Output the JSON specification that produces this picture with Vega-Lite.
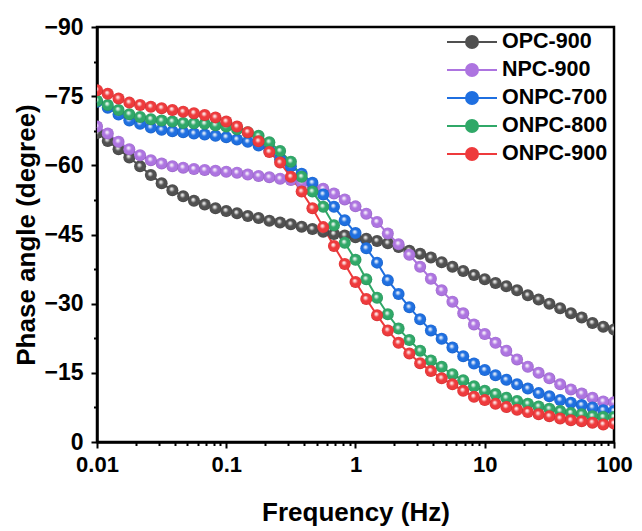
{
  "$schema": "https://vega.github.io/schema/vega-lite/v6.json",
  "autosize": {"type": "none"},
  "padding": {"left": 97, "top": 27, "right": 28, "bottom": 89},
  "width": 517,
  "height": 415,
  "background": "white",
  "config": {
    "view": {"stroke": "black", "strokeWidth": 2.5},
    "font": "Liberation Sans",
    "axis": {"domainColor": "black", "domainWidth": 2.5, "tickColor": "black", "tickWidth": 2, "grid": false,
      "labelFont": "Liberation Sans", "labelFontSize": 22, "labelFontWeight": "bold", "labelColor": "black",
      "titleFont": "Liberation Sans", "titleFontSize": 26, "titleFontWeight": "bold", "titleColor": "black"}
  },
  "data": {"values": [
    {"f":0.01,"OPC_900":-67.0,"NPC_900":-68.4,"ONPC_700":-73.8,"ONPC_800":-74.0,"ONPC_900":-76.3},
    {"f":0.012115,"OPC_900":-65.3,"NPC_900":-66.9,"ONPC_700":-72.5,"ONPC_800":-73.1,"ONPC_900":-75.5},
    {"f":0.014678,"OPC_900":-63.5,"NPC_900":-65.1,"ONPC_700":-71.0,"ONPC_800":-72.0,"ONPC_900":-74.5},
    {"f":0.017783,"OPC_900":-61.7,"NPC_900":-63.5,"ONPC_700":-69.7,"ONPC_800":-71.1,"ONPC_900":-73.6},
    {"f":0.021544,"OPC_900":-59.8,"NPC_900":-62.2,"ONPC_700":-69.0,"ONPC_800":-70.5,"ONPC_900":-73.1},
    {"f":0.026102,"OPC_900":-57.9,"NPC_900":-61.1,"ONPC_700":-68.2,"ONPC_800":-70.0,"ONPC_900":-72.7},
    {"f":0.031623,"OPC_900":-56.1,"NPC_900":-60.4,"ONPC_700":-67.7,"ONPC_800":-69.7,"ONPC_900":-72.4},
    {"f":0.038312,"OPC_900":-54.6,"NPC_900":-59.8,"ONPC_700":-67.4,"ONPC_800":-69.5,"ONPC_900":-72.0},
    {"f":0.046416,"OPC_900":-53.3,"NPC_900":-59.5,"ONPC_700":-67.2,"ONPC_800":-69.2,"ONPC_900":-71.6},
    {"f":0.056234,"OPC_900":-52.3,"NPC_900":-59.2,"ONPC_700":-66.9,"ONPC_800":-69.1,"ONPC_900":-71.3},
    {"f":0.068129,"OPC_900":-51.5,"NPC_900":-59.0,"ONPC_700":-66.7,"ONPC_800":-69.0,"ONPC_900":-70.9},
    {"f":0.08254,"OPC_900":-50.7,"NPC_900":-58.8,"ONPC_700":-66.4,"ONPC_800":-68.7,"ONPC_900":-70.4},
    {"f":0.1,"OPC_900":-50.1,"NPC_900":-58.6,"ONPC_700":-66.1,"ONPC_800":-68.4,"ONPC_900":-69.5},
    {"f":0.12115,"OPC_900":-49.6,"NPC_900":-58.4,"ONPC_700":-65.6,"ONPC_800":-67.8,"ONPC_900":-68.4},
    {"f":0.14678,"OPC_900":-49.0,"NPC_900":-58.0,"ONPC_700":-65.1,"ONPC_800":-67.2,"ONPC_900":-67.2},
    {"f":0.17783,"OPC_900":-48.6,"NPC_900":-57.7,"ONPC_700":-64.3,"ONPC_800":-66.4,"ONPC_900":-65.2},
    {"f":0.21544,"OPC_900":-48.0,"NPC_900":-57.4,"ONPC_700":-63.2,"ONPC_800":-65.0,"ONPC_900":-62.9},
    {"f":0.26102,"OPC_900":-47.6,"NPC_900":-57.1,"ONPC_700":-61.3,"ONPC_800":-63.1,"ONPC_900":-60.6},
    {"f":0.31623,"OPC_900":-47.2,"NPC_900":-56.8,"ONPC_700":-59.8,"ONPC_800":-60.8,"ONPC_900":-57.5},
    {"f":0.38312,"OPC_900":-46.7,"NPC_900":-56.3,"ONPC_700":-58.2,"ONPC_800":-57.5,"ONPC_900":-54.3},
    {"f":0.46416,"OPC_900":-46.2,"NPC_900":-55.7,"ONPC_700":-56.2,"ONPC_800":-54.3,"ONPC_900":-50.7},
    {"f":0.56234,"OPC_900":-45.6,"NPC_900":-54.9,"ONPC_700":-53.7,"ONPC_800":-51.0,"ONPC_900":-46.6},
    {"f":0.68129,"OPC_900":-45.1,"NPC_900":-53.9,"ONPC_700":-51.0,"ONPC_800":-47.0,"ONPC_900":-42.5},
    {"f":0.8254,"OPC_900":-44.8,"NPC_900":-52.6,"ONPC_700":-48.1,"ONPC_800":-43.2,"ONPC_900":-38.6},
    {"f":1,"OPC_900":-44.4,"NPC_900":-51.1,"ONPC_700":-45.3,"ONPC_800":-39.5,"ONPC_900":-34.7},
    {"f":1.2115,"OPC_900":-44.1,"NPC_900":-49.5,"ONPC_700":-42.0,"ONPC_800":-35.3,"ONPC_900":-31.0},
    {"f":1.4678,"OPC_900":-43.6,"NPC_900":-47.7,"ONPC_700":-38.9,"ONPC_800":-31.3,"ONPC_900":-27.5},
    {"f":1.7783,"OPC_900":-43.1,"NPC_900":-45.2,"ONPC_700":-35.1,"ONPC_800":-27.7,"ONPC_900":-24.2},
    {"f":2.1544,"OPC_900":-42.3,"NPC_900":-42.9,"ONPC_700":-32.1,"ONPC_800":-24.6,"ONPC_900":-21.5},
    {"f":2.6102,"OPC_900":-41.5,"NPC_900":-40.6,"ONPC_700":-29.2,"ONPC_800":-22.1,"ONPC_900":-19.2},
    {"f":3.1623,"OPC_900":-40.8,"NPC_900":-38.0,"ONPC_700":-26.6,"ONPC_800":-19.8,"ONPC_900":-17.1},
    {"f":3.8312,"OPC_900":-40.0,"NPC_900":-35.4,"ONPC_700":-24.2,"ONPC_800":-17.7,"ONPC_900":-15.4},
    {"f":4.6416,"OPC_900":-39.0,"NPC_900":-32.9,"ONPC_700":-22.4,"ONPC_800":-16.3,"ONPC_900":-13.8},
    {"f":5.6234,"OPC_900":-38.0,"NPC_900":-30.4,"ONPC_700":-20.5,"ONPC_800":-14.7,"ONPC_900":-12.5},
    {"f":6.8129,"OPC_900":-37.1,"NPC_900":-27.9,"ONPC_700":-18.6,"ONPC_800":-13.4,"ONPC_900":-11.1},
    {"f":8.254,"OPC_900":-36.2,"NPC_900":-25.5,"ONPC_700":-17.0,"ONPC_800":-12.1,"ONPC_900":-9.8},
    {"f":10,"OPC_900":-35.3,"NPC_900":-23.4,"ONPC_700":-15.6,"ONPC_800":-11.1,"ONPC_900":-9.1},
    {"f":12.115,"OPC_900":-34.5,"NPC_900":-21.5,"ONPC_700":-14.5,"ONPC_800":-10.4,"ONPC_900":-8.3},
    {"f":14.678,"OPC_900":-33.8,"NPC_900":-19.8,"ONPC_700":-13.5,"ONPC_800":-9.6,"ONPC_900":-7.6},
    {"f":17.783,"OPC_900":-32.9,"NPC_900":-17.9,"ONPC_700":-12.5,"ONPC_800":-8.9,"ONPC_900":-7.0},
    {"f":21.544,"OPC_900":-31.8,"NPC_900":-16.3,"ONPC_700":-11.6,"ONPC_800":-8.3,"ONPC_900":-6.5},
    {"f":26.102,"OPC_900":-30.9,"NPC_900":-15.0,"ONPC_700":-10.6,"ONPC_800":-7.7,"ONPC_900":-6.0},
    {"f":31.623,"OPC_900":-30.0,"NPC_900":-13.8,"ONPC_700":-9.9,"ONPC_800":-7.2,"ONPC_900":-5.6},
    {"f":38.312,"OPC_900":-29.0,"NPC_900":-12.5,"ONPC_700":-9.1,"ONPC_800":-6.7,"ONPC_900":-5.1},
    {"f":46.416,"OPC_900":-27.9,"NPC_900":-11.4,"ONPC_700":-8.5,"ONPC_800":-6.3,"ONPC_900":-4.7},
    {"f":56.234,"OPC_900":-27.0,"NPC_900":-10.5,"ONPC_700":-8.0,"ONPC_800":-6.0,"ONPC_900":-4.5},
    {"f":68.129,"OPC_900":-25.8,"NPC_900":-9.6,"ONPC_700":-7.5,"ONPC_800":-5.6,"ONPC_900":-4.2},
    {"f":82.54,"OPC_900":-25.0,"NPC_900":-8.8,"ONPC_700":-6.9,"ONPC_800":-5.4,"ONPC_900":-3.8},
    {"f":100,"OPC_900":-24.4,"NPC_900":-8.6,"ONPC_700":-6.7,"ONPC_800":-5.4,"ONPC_900":-4.0}
  ]},
  "transform": [{"fold": ["OPC_900", "NPC_900", "ONPC_700", "ONPC_800", "ONPC_900"], "as": ["s", "p"]}],
  "encoding": {
    "x": {"field": "f", "type": "quantitative",
      "scale": {"type": "log", "domain": [0.01, 100], "nice": false},
      "axis": {"title": "Frequency (Hz)", "titlePadding": 24,
        "values": [0.01,0.02,0.03,0.04,0.05,0.06,0.07,0.08,0.09,0.1,0.2,0.3,0.4,0.5,0.6,0.7,0.8,0.9,1,2,3,4,5,6,7,8,9,10,20,30,40,50,60,70,80,90,100],
        "labelExpr": "indexof([0.01,0.1,1,10,100], datum.value) >= 0 ? format(datum.value, '~g') : ''",
        "tickSize": {"condition": {"test": "indexof([0.01,0.1,1,10,100], datum.value) >= 0", "value": 6}, "value": 3.5},
        "labelFlush": false, "labelOverlap": false, "labelBound": false, "labelPadding": 6}},
    "y": {"field": "p", "type": "quantitative",
      "scale": {"domain": [-90, 0], "reverse": true, "nice": false, "zero": false},
      "axis": {"title": "Phase angle (degree)", "titlePadding": 4,
        "values": [-90,-82.5,-75,-67.5,-60,-52.5,-45,-37.5,-30,-22.5,-15,-7.5,0],
        "labelExpr": "datum.value % 15 === 0 ? format(datum.value, 'd') : ''",
        "labelFontSize": 23,
        "tickSize": {"condition": {"test": "datum.value % 15 === 0", "value": 6}, "value": 3.5},
        "labelFlush": false, "labelOverlap": false, "labelBound": false, "labelPadding": 8}}
  },
  "layer": [
    {"mark": {"type": "line", "strokeWidth": 2},
     "encoding": {"color": {"field": "s", "type": "nominal",
        "scale": {"domain": ["OPC_900","NPC_900","ONPC_700","ONPC_800","ONPC_900"], "range": ["#505050","#ad74e0","#1f6fe0","#30a868","#ee3a3c"]},
        "legend": {"orient": "none", "legendX": 364, "legendY": 4, "title": null, "padding": 0,
          "labelExpr": "replace(datum.label, '_', '-')",
          "symbolType": "M-2.5,0H2.5M0.6,0A0.6,0.6,0,1,1,-0.6,0A0.6,0.6,0,1,1,0.6,0Z",
          "symbolSize": 400, "symbolStrokeWidth": 2,
          "labelFont": "Liberation Sans", "labelFontSize": 21.5, "labelFontWeight": "bold", "labelColor": "black",
          "labelOffset": 19, "rowPadding": 6,
          "encode": {"symbols": {"update": {"fill": {"scale": "color", "field": "value"}, "stroke": {"scale": "color", "field": "value"}, "opacity": {"value": 1}}}}}}}},
    {"transform": [{"filter": "datum.s === 'OPC_900'"}], "layer": [
      {"mark": {"type": "point", "filled": true, "size": 144, "opacity": 1, "clip": true},
       "encoding": {"color": {"field": "s", "type": "nominal", "legend": null,
          "scale": {"domain": ["OPC_900","NPC_900","ONPC_700","ONPC_800","ONPC_900"], "range": ["#505050","#ad74e0","#1f6fe0","#30a868","#ee3a3c"]}}}},
      {"mark": {"type": "point", "filled": true, "size": 144, "opacity": 1, "clip": true, "strokeWidth": 0,
        "fill": {"gradient": "radial", "x1": 0.42, "y1": 0.38, "r1": 0, "x2": 0.5, "y2": 0.5, "r2": 0.55,
          "stops": [{"offset": 0, "color": "rgba(255,255,255,1)"}, {"offset": 0.18, "color": "rgba(255,255,255,0.7)"}, {"offset": 0.42, "color": "rgba(255,255,255,0)"}, {"offset": 0.8, "color": "rgba(0,0,0,0)"}, {"offset": 1, "color": "rgba(0,0,0,0.25)"}]}}}
    ]},
    {"transform": [{"filter": "datum.s === 'NPC_900'"}], "layer": [
      {"mark": {"type": "point", "filled": true, "size": 144, "opacity": 1, "clip": true},
       "encoding": {"color": {"field": "s", "type": "nominal", "legend": null,
          "scale": {"domain": ["OPC_900","NPC_900","ONPC_700","ONPC_800","ONPC_900"], "range": ["#505050","#ad74e0","#1f6fe0","#30a868","#ee3a3c"]}}}},
      {"mark": {"type": "point", "filled": true, "size": 144, "opacity": 1, "clip": true, "strokeWidth": 0,
        "fill": {"gradient": "radial", "x1": 0.42, "y1": 0.38, "r1": 0, "x2": 0.5, "y2": 0.5, "r2": 0.55,
          "stops": [{"offset": 0, "color": "rgba(255,255,255,1)"}, {"offset": 0.18, "color": "rgba(255,255,255,0.7)"}, {"offset": 0.42, "color": "rgba(255,255,255,0)"}, {"offset": 0.8, "color": "rgba(0,0,0,0)"}, {"offset": 1, "color": "rgba(0,0,0,0.25)"}]}}}
    ]},
    {"transform": [{"filter": "datum.s === 'ONPC_700'"}], "layer": [
      {"mark": {"type": "point", "filled": true, "size": 144, "opacity": 1, "clip": true},
       "encoding": {"color": {"field": "s", "type": "nominal", "legend": null,
          "scale": {"domain": ["OPC_900","NPC_900","ONPC_700","ONPC_800","ONPC_900"], "range": ["#505050","#ad74e0","#1f6fe0","#30a868","#ee3a3c"]}}}},
      {"mark": {"type": "point", "filled": true, "size": 144, "opacity": 1, "clip": true, "strokeWidth": 0,
        "fill": {"gradient": "radial", "x1": 0.42, "y1": 0.38, "r1": 0, "x2": 0.5, "y2": 0.5, "r2": 0.55,
          "stops": [{"offset": 0, "color": "rgba(255,255,255,1)"}, {"offset": 0.18, "color": "rgba(255,255,255,0.7)"}, {"offset": 0.42, "color": "rgba(255,255,255,0)"}, {"offset": 0.8, "color": "rgba(0,0,0,0)"}, {"offset": 1, "color": "rgba(0,0,0,0.25)"}]}}}
    ]},
    {"transform": [{"filter": "datum.s === 'ONPC_800'"}], "layer": [
      {"mark": {"type": "point", "filled": true, "size": 144, "opacity": 1, "clip": true},
       "encoding": {"color": {"field": "s", "type": "nominal", "legend": null,
          "scale": {"domain": ["OPC_900","NPC_900","ONPC_700","ONPC_800","ONPC_900"], "range": ["#505050","#ad74e0","#1f6fe0","#30a868","#ee3a3c"]}}}},
      {"mark": {"type": "point", "filled": true, "size": 144, "opacity": 1, "clip": true, "strokeWidth": 0,
        "fill": {"gradient": "radial", "x1": 0.42, "y1": 0.38, "r1": 0, "x2": 0.5, "y2": 0.5, "r2": 0.55,
          "stops": [{"offset": 0, "color": "rgba(255,255,255,1)"}, {"offset": 0.18, "color": "rgba(255,255,255,0.7)"}, {"offset": 0.42, "color": "rgba(255,255,255,0)"}, {"offset": 0.8, "color": "rgba(0,0,0,0)"}, {"offset": 1, "color": "rgba(0,0,0,0.25)"}]}}}
    ]},
    {"transform": [{"filter": "datum.s === 'ONPC_900'"}], "layer": [
      {"mark": {"type": "point", "filled": true, "size": 144, "opacity": 1, "clip": true},
       "encoding": {"color": {"field": "s", "type": "nominal", "legend": null,
          "scale": {"domain": ["OPC_900","NPC_900","ONPC_700","ONPC_800","ONPC_900"], "range": ["#505050","#ad74e0","#1f6fe0","#30a868","#ee3a3c"]}}}},
      {"mark": {"type": "point", "filled": true, "size": 144, "opacity": 1, "clip": true, "strokeWidth": 0,
        "fill": {"gradient": "radial", "x1": 0.42, "y1": 0.38, "r1": 0, "x2": 0.5, "y2": 0.5, "r2": 0.55,
          "stops": [{"offset": 0, "color": "rgba(255,255,255,1)"}, {"offset": 0.18, "color": "rgba(255,255,255,0.7)"}, {"offset": 0.42, "color": "rgba(255,255,255,0)"}, {"offset": 0.8, "color": "rgba(0,0,0,0)"}, {"offset": 1, "color": "rgba(0,0,0,0.25)"}]}}}
    ]}
  ]
}
